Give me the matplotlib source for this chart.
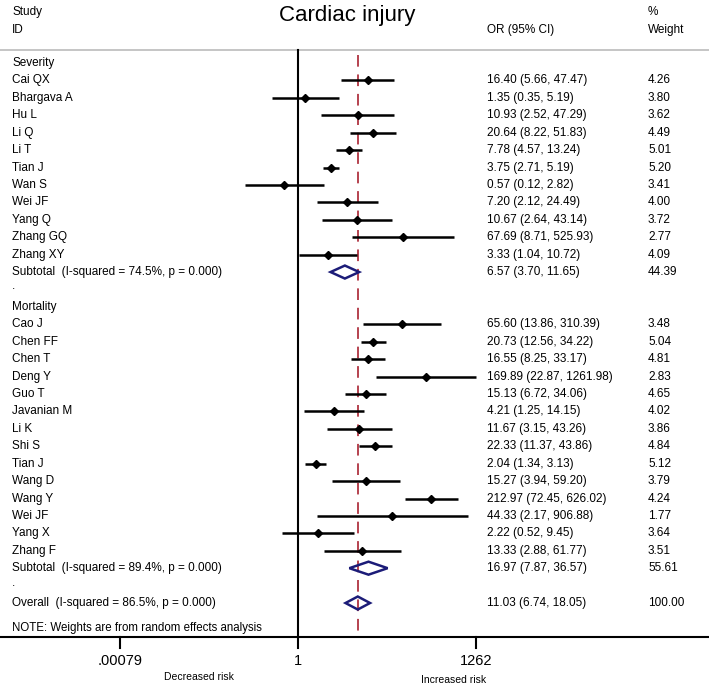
import numpy as np
import matplotlib
matplotlib.use('Agg')
import matplotlib.pyplot as plt
from matplotlib.patches import Polygon

plt.rcParams['font.family'] = ['Liberation Sans', 'DejaVu Sans']

# study rows, per group
sev_names = ['Cai QX', 'Bhargava A', 'Hu L', 'Li Q', 'Li T', 'Tian J', 'Wan S',
             'Wei JF', 'Yang Q', 'Zhang GQ', 'Zhang XY']
sev_or = [16.40, 1.35, 10.93, 20.64, 7.78, 3.75, 0.57, 7.20, 10.67, 67.69, 3.33]
sev_lo = [5.66, 0.35, 2.52, 8.22, 4.57, 2.71, 0.12, 2.12, 2.64, 8.71, 1.04]
sev_hi = [47.47, 5.19, 47.29, 51.83, 13.24, 5.19, 2.82, 24.49, 43.14, 525.93, 10.72]
sev_w = [4.26, 3.80, 3.62, 4.49, 5.01, 5.20, 3.41, 4.00, 3.72, 2.77, 4.09]

mor_names = ['Cao J', 'Chen FF', 'Chen T', 'Deng Y', 'Guo T', 'Javanian M', 'Li K',
             'Shi S', 'Tian J', 'Wang D', 'Wang Y', 'Wei JF', 'Yang X', 'Zhang F']
mor_or = [65.60, 20.73, 16.55, 169.89, 15.13, 4.21, 11.67, 22.33, 2.04, 15.27,
          212.97, 44.33, 2.22, 13.33]
mor_lo = [13.86, 12.56, 8.25, 22.87, 6.72, 1.25, 3.15, 11.37, 1.34, 3.94,
          72.45, 2.17, 0.52, 2.88]
mor_hi = [310.39, 34.22, 33.17, 1261.98, 34.06, 14.15, 43.26, 43.86, 3.13, 59.20,
          626.02, 906.88, 9.45, 61.77]
mor_w = [3.48, 5.04, 4.81, 2.83, 4.65, 4.02, 3.86, 4.84, 5.12, 3.79, 4.24, 1.77,
         3.64, 3.51]

# pooled estimates
sub_labels = ['Subtotal  (I-squared = 74.5%, p = 0.000)',
              'Subtotal  (I-squared = 89.4%, p = 0.000)']
sub_or = [6.57, 16.97]
sub_lo = [3.70, 7.87]
sub_hi = [11.65, 36.57]
sub_w = [44.39, 55.61]
overall_label = 'Overall  (I-squared = 86.5%, p = 0.000)'
overall_or, overall_lo, overall_hi = 11.03, 6.74, 18.05

xticks = [0.00079, 1, 1262]
xtick_labels = ['.00079', '1', '1262']

W, H = 709, 686
fig = plt.figure(figsize=(W / 100, H / 100), dpi=100)
ax = fig.add_axes([0, 0, 1, 1])
ax.set_xscale('log')
# pixel 298 -> OR 1, 24.9 px per log unit
x0, k = 298.0, 24.9
ax.set_xlim(np.exp(-x0 / k), np.exp((W - x0) / k))
ax.set_ylim(H, 0)
ax.axis('off')
tr = ax.get_yaxis_transform()  # x in axes fraction, y in data (pixels)

row0, step = 63.0, 17.42
def ry(i):
    return row0 + step * i

fs = 8.5
navy = '#1c1c78'
red = '#b5424f'
xl, xor, xw = 12, 487, 648  # text column starts

def txt(xpix, y, s, **kw):
    ax.text(xpix / W, y, s, transform=tr, fontsize=kw.pop('fs', fs), va='center', **kw)

def est_row(i, name, o, lo, hi, w):
    y = ry(i)
    ax.plot([lo, hi], [y, y], color='black', lw=1.8, solid_capstyle='butt', zorder=3)
    ax.plot([o], [y], marker='D', color='black', ms=4.5, zorder=4)
    txt(xl, y, name)
    txt(xor, y, f'{o:.2f} ({lo:.2f}, {hi:.2f})')
    txt(xw, y, f'{w:.2f}')

def diamond_row(i, name, o, lo, hi, w):
    y = ry(i)
    h = 6.5
    ax.add_patch(Polygon([(lo, y), (o, y - h), (hi, y), (o, y + h)], closed=True,
                         fill=False, edgecolor=navy, lw=1.8, zorder=4))
    txt(xl, y, name)
    txt(xor, y, f'{o:.2f} ({lo:.2f}, {hi:.2f})')
    txt(xw, y, f'{w:.2f}')

i = 0
txt(xl, ry(i), 'Severity')
i += 1
for n, o, lo, hi, w in zip(sev_names, sev_or, sev_lo, sev_hi, sev_w):
    est_row(i, n, o, lo, hi, w)
    i += 1
diamond_row(i, sub_labels[0], sub_or[0], sub_lo[0], sub_hi[0], sub_w[0])
i += 1
txt(xl, ry(i) - 3, '.')
i += 1
txt(xl, ry(i), 'Mortality')
i += 1
for n, o, lo, hi, w in zip(mor_names, mor_or, mor_lo, mor_hi, mor_w):
    est_row(i, n, o, lo, hi, w)
    i += 1
diamond_row(i, sub_labels[1], sub_or[1], sub_lo[1], sub_hi[1], sub_w[1])
i += 1
txt(xl, ry(i) - 3, '.')
i += 1
diamond_row(i, overall_label, overall_or, overall_lo, overall_hi, 100.00)
last = i

# headers
txt(xl, 12, 'Study')
txt(xl, 30, 'ID')
txt(xor, 30, 'OR (95% CI)')
txt(xw, 12, '%')
txt(xw, 30, 'Weight')
txt(347, 15, 'Cardiac injury', fs=16, ha='center')
txt(xl, ry(last) + 25, 'NOTE: Weights are from random effects analysis', fs=8.3)

ax.axhline(50, color='#bbbbbb', lw=1.2)
y_axis = 637
ax.axhline(y_axis, color='black', lw=1.5)
ax.plot([1, 1], [50, y_axis], color='black', lw=1.5, zorder=2)
ax.plot([overall_or, overall_or], [55, y_axis], color=red, lw=1.4,
        dashes=(6, 4), zorder=2)

for t, lab in zip(xticks, xtick_labels):
    ax.plot([t, t], [y_axis, y_axis + 11], color='black', lw=1.5)
    ax.text(t, y_axis + 24, lab, ha='center', va='center', fontsize=10.5)

txt(199, 677, 'Decreased risk', fs=7.5, ha='center')
txt(454, 680, 'Increased risk', fs=7.5, ha='center')

fig.savefig('out.png', dpi=100)
